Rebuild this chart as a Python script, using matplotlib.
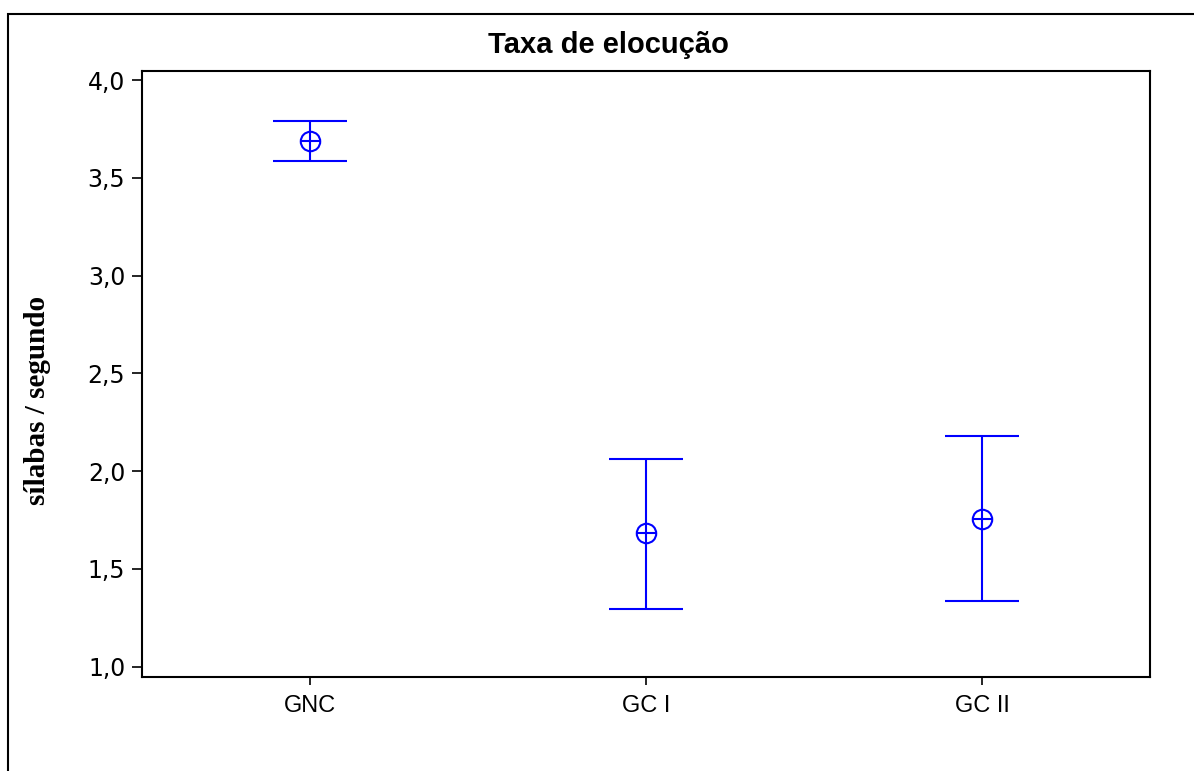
import matplotlib.pyplot as plt
from matplotlib.patches import Rectangle
from matplotlib.ticker import FuncFormatter
import numpy as np

groups = ['GNC', 'GC I', 'GC II']
means = [3.690, 1.682, 1.756]
upper = [3.792, 2.064, 2.180]
lower = [3.588, 1.297, 1.336]

yticks = [1.0, 1.5, 2.0, 2.5, 3.0, 3.5, 4.0]

fig = plt.figure(figsize=(11.94, 7.71), dpi=100)
ax = fig.add_axes([0.1189, 0.1223, 0.9631 - 0.1189, 0.9083 - 0.1223])

x = np.arange(1, len(groups) + 1)
m = np.array(means)
err = [m - np.array(lower), np.array(upper) - m]

blue = '#0000ff'
ax.errorbar(x, m, yerr=err, fmt='none', ecolor=blue, elinewidth=1.5,
            capsize=26.6, capthick=1.5)
ax.plot(x, m, 'o', ms=14, mfc='none', mec=blue, mew=1.5)
ax.plot(x, m, '_', ms=14, color=blue, mew=1.5)

ax.set_xlim(0.5, 3.5)
ax.set_ylim(0.949, 4.048)
ax.set_xticks(x)
ax.set_xticklabels(groups, family='Liberation Sans', fontsize=17)
ax.set_yticks(yticks)
ax.yaxis.set_major_formatter(FuncFormatter(lambda v, p: ('%.1f' % v).replace('.', ',')))
for t in ax.get_yticklabels():
    t.set_family('DejaVu Sans')
    t.set_fontsize(17)
ax.tick_params(axis='y', direction='out', length=7, width=1.2, pad=5)
ax.tick_params(axis='x', direction='out', length=6, width=1.2, pad=7)
for s in ax.spines.values():
    s.set_linewidth(1.5)

fig.text(608 / 1194, 1 - 45 / 771, 'Taxa de elocução', family='Liberation Sans',
         fontweight='bold', fontsize=21, ha='center', va='center')
fig.text(38 / 1194, 1 - 400 / 771, 'sílabas / segundo', rotation=90,
         family='Liberation Serif', fontweight='bold', fontsize=21,
         ha='center', va='center')

# outer frame (left and top edges visible)
fig.patches.append(Rectangle((8 / 1194, -0.5), 2, 0.5 + (1 - 14 / 771),
                             transform=fig.transFigure, fill=False,
                             edgecolor='black', linewidth=1.5))

fig.savefig('out.png', dpi=100)
